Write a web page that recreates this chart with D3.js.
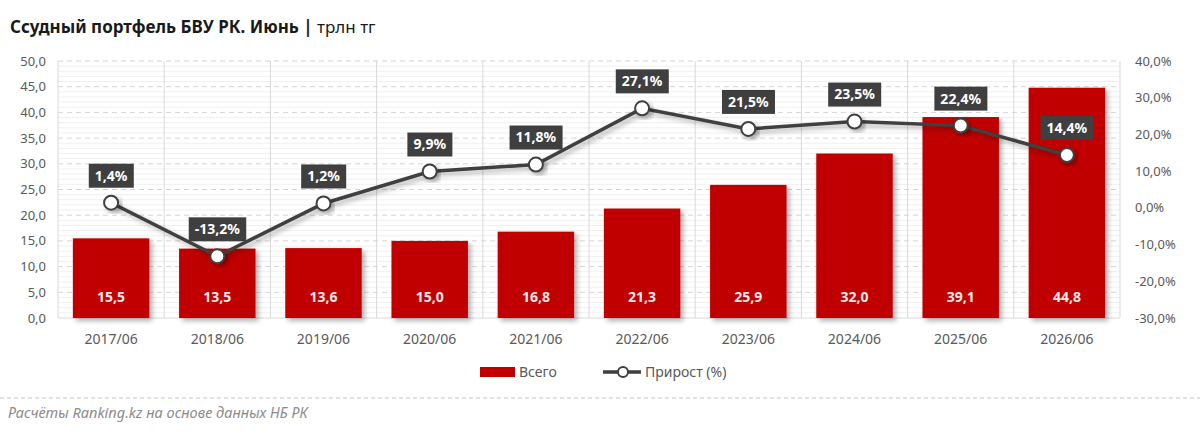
<!DOCTYPE html>
<html>
<head>
<meta charset="utf-8">
<script src="https://cdn.jsdelivr.net/npm/d3@7"></script>
<style>
  body { margin: 0; background: #fff; }
  text { font-family: "Noto Sans", "Open Sans", sans-serif; }
</style>
</head>
<body>
<div id="wrapper"></div>
<script>
// chart data
const periods = ["2017/06", "2018/06", "2019/06", "2020/06", "2021/06", "2022/06", "2023/06", "2024/06", "2025/06", "2026/06"]
const totals = [15.5, 13.5, 13.6, 15.0, 16.8, 21.3, 25.9, 32.0, 39.1, 44.8]
const growth = [1.4, -13.2, 1.2, 9.9, 11.8, 27.1, 21.5, 23.5, 22.4, 14.4]
const leftTicks = [0, 5, 10, 15, 20, 25, 30, 35, 40, 45, 50]
const rightTicks = [-30, -20, -10, 0, 10, 20, 30, 40]

const fmt1 = d3.format(".1f")
const comma = v => fmt1(v).replace(".", ",").replace("\u2212", "-")

function drawChart() {
  const dimensions = {
    width: 1200,
    height: 436,
    margin: { top: 61, right: 80, bottom: 118, left: 58 },
  }
  dimensions.boundedWidth = dimensions.width - dimensions.margin.left - dimensions.margin.right
  dimensions.boundedHeight = dimensions.height - dimensions.margin.top - dimensions.margin.bottom

  const wrapper = d3.select("#wrapper")
    .append("svg")
      .attr("width", dimensions.width)
      .attr("height", dimensions.height)

  const defs = wrapper.append("defs")
  const shadow = defs.append("filter")
      .attr("id", "shadow")
      .attr("x", "-20%").attr("y", "-20%")
      .attr("width", "150%").attr("height", "150%")
  shadow.append("feDropShadow")
      .attr("dx", 3).attr("dy", 3)
      .attr("stdDeviation", 2.5)
      .attr("flood-color", "#000")
      .attr("flood-opacity", 0.3)

  // title
  const title = wrapper.append("text")
      .attr("x", 10)
      .attr("y", 33)
      .style("font-size", "17px")
      .style("fill", "#1a1a1a")
  title.append("tspan").style("font-weight", "bold").text("Ссудный портфель БВУ РК. Июнь")
  title.append("tspan").style("font-weight", "bold").text(" | ")
  title.append("tspan").text("трлн тг")

  const bounds = wrapper.append("g")
      .attr("transform", `translate(${dimensions.margin.left}, ${dimensions.margin.top})`)

  // scales
  const xScale = d3.scaleBand()
    .domain(periods)
    .range([0, dimensions.boundedWidth])
    .paddingInner(0.28)
    .paddingOuter(0.14)

  const bandStep = dimensions.boundedWidth / periods.length
  const xCenter = d => bandStep * (periods.indexOf(d) + 0.5)

  const yScale = d3.scaleLinear()
    .domain([0, 50])
    .range([dimensions.boundedHeight, 0])

  const y2Scale = d3.scaleLinear()
    .domain([-30, 40])
    .range([dimensions.boundedHeight, 0])

  // grid: faint minor lines, dashed major lines, vertical separators
  const minorTicks = d3.range(0, 50, 1).filter(v => v % 5 !== 0)
  bounds.selectAll(".minor")
      .data(minorTicks)
    .enter().append("line")
      .attr("x1", 0)
      .attr("x2", dimensions.boundedWidth)
      .attr("y1", d => yScale(d))
      .attr("y2", d => yScale(d))
      .attr("stroke", "#f0f0f0")
      .attr("stroke-width", 1)

  bounds.selectAll(".major")
      .data(leftTicks.slice(1))
    .enter().append("line")
      .attr("x1", 0)
      .attr("x2", dimensions.boundedWidth)
      .attr("y1", d => yScale(d))
      .attr("y2", d => yScale(d))
      .attr("stroke", "#d4d4d4")
      .attr("stroke-dasharray", "5,4")

  bounds.selectAll(".vgrid")
      .data(d3.range(0, periods.length + 1))
    .enter().append("line")
      .attr("x1", i => i * bandStep)
      .attr("x2", i => i * bandStep)
      .attr("y1", 0)
      .attr("y2", dimensions.boundedHeight)
      .attr("stroke", "#d9d9d9")

  bounds.append("line")
      .attr("x1", 0)
      .attr("x2", dimensions.boundedWidth)
      .attr("y1", dimensions.boundedHeight)
      .attr("y2", dimensions.boundedHeight)
      .attr("stroke", "#d9d9d9")

  // bars
  const barData = periods.map((p, i) => ({ period: p, value: totals[i] }))
  bounds.selectAll(".bar")
      .data(barData)
    .enter().append("rect")
      .attr("x", d => xCenter(d.period) - xScale.bandwidth() / 2)
      .attr("width", xScale.bandwidth())
      .attr("y", d => yScale(d.value))
      .attr("height", d => dimensions.boundedHeight - yScale(d.value))
      .attr("fill", "#c00000")
      .attr("filter", "url(#shadow)")

  bounds.selectAll(".bar-label")
      .data(barData)
    .enter().append("text")
      .attr("x", d => xCenter(d.period))
      .attr("y", dimensions.boundedHeight - 16)
      .attr("text-anchor", "middle")
      .style("font-size", "14px")
      .style("font-weight", "bold")
      .style("fill", "#fde8e8")
      .text(d => comma(d.value))

  // growth line
  const lineData = periods.map((p, i) => ({ period: p, value: growth[i] }))
  const lineGenerator = d3.line()
    .x(d => xCenter(d.period))
    .y(d => y2Scale(d.value))

  bounds.append("path")
      .attr("d", lineGenerator(lineData))
      .attr("fill", "none")
      .attr("stroke", "#3f3f3f")
      .attr("stroke-width", 3.5)
      .attr("filter", "url(#shadow)")

  bounds.selectAll(".dot")
      .data(lineData)
    .enter().append("circle")
      .attr("cx", d => xCenter(d.period))
      .attr("cy", d => y2Scale(d.value))
      .attr("r", 7)
      .attr("fill", "#fff")
      .attr("stroke", "#3f3f3f")
      .attr("stroke-width", 2)
      .attr("filter", "url(#shadow)")

  const tags = bounds.selectAll(".tag")
      .data(lineData)
    .enter().append("g")
      .attr("transform", d => `translate(${xCenter(d.period)}, ${y2Scale(d.value) - 27})`)
  tags.append("text")
      .attr("text-anchor", "middle")
      .attr("dy", "0.35em")
      .style("font-size", "14px")
      .style("font-weight", "bold")
      .style("fill", "#fff")
      .text(d => comma(d.value) + "%")
  tags.each(function() {
    const g = d3.select(this)
    const box = g.select("text").node().getBBox()
    g.insert("rect", "text")
      .attr("x", box.x - 6)
      .attr("y", -12)
      .attr("width", box.width + 12)
      .attr("height", 24)
      .attr("fill", "#3f3f3f")
  })

  // axes labels
  bounds.selectAll(".y-label")
      .data(leftTicks)
    .enter().append("text")
      .attr("x", -12)
      .attr("y", d => yScale(d))
      .attr("dy", "0.35em")
      .attr("text-anchor", "end")
      .style("font-size", "13px")
      .style("fill", "#595959")
      .text(comma)

  bounds.selectAll(".y2-label")
      .data(rightTicks)
    .enter().append("text")
      .attr("x", dimensions.boundedWidth + 15)
      .attr("y", d => y2Scale(d))
      .attr("dy", "0.35em")
      .style("font-size", "13px")
      .style("fill", "#595959")
      .text(d => comma(d) + "%")

  bounds.selectAll(".x-label")
      .data(periods)
    .enter().append("text")
      .attr("x", xCenter)
      .attr("y", dimensions.boundedHeight + 26)
      .attr("text-anchor", "middle")
      .style("font-size", "14px")
      .style("fill", "#595959")
      .text(d => d)

  // legend
  const legend = wrapper.append("g")
  legend.append("rect")
      .attr("x", 480).attr("y", 367)
      .attr("width", 35).attr("height", 10)
      .attr("fill", "#c00000")
  legend.append("text")
      .attr("x", 519).attr("y", 372)
      .attr("dy", "0.35em")
      .style("font-size", "14px")
      .style("fill", "#595959")
      .text("Всего")
  legend.append("line")
      .attr("x1", 603).attr("x2", 641)
      .attr("y1", 372).attr("y2", 372)
      .attr("stroke", "#3f3f3f")
      .attr("stroke-width", 3.5)
  legend.append("circle")
      .attr("cx", 623).attr("cy", 372)
      .attr("r", 5)
      .attr("fill", "#fff")
      .attr("stroke", "#3f3f3f")
      .attr("stroke-width", 2)
  legend.append("text")
      .attr("x", 645).attr("y", 372)
      .attr("dy", "0.35em")
      .style("font-size", "14px")
      .style("fill", "#595959")
      .text("Прирост (%)")

  // footer
  wrapper.append("line")
      .attr("x1", 0).attr("x2", dimensions.width)
      .attr("y1", 398).attr("y2", 398)
      .attr("stroke", "#c8c8c8")
      .attr("stroke-dasharray", "4,3")
  wrapper.append("text")
      .attr("x", 8).attr("y", 418)
      .style("font-size", "14.5px")
      .style("font-style", "italic")
      .style("fill", "#8c8c8c")
      .text("Расчёты Ranking.kz на основе данных НБ РК")
}
drawChart()
</script>
</body>
</html>
